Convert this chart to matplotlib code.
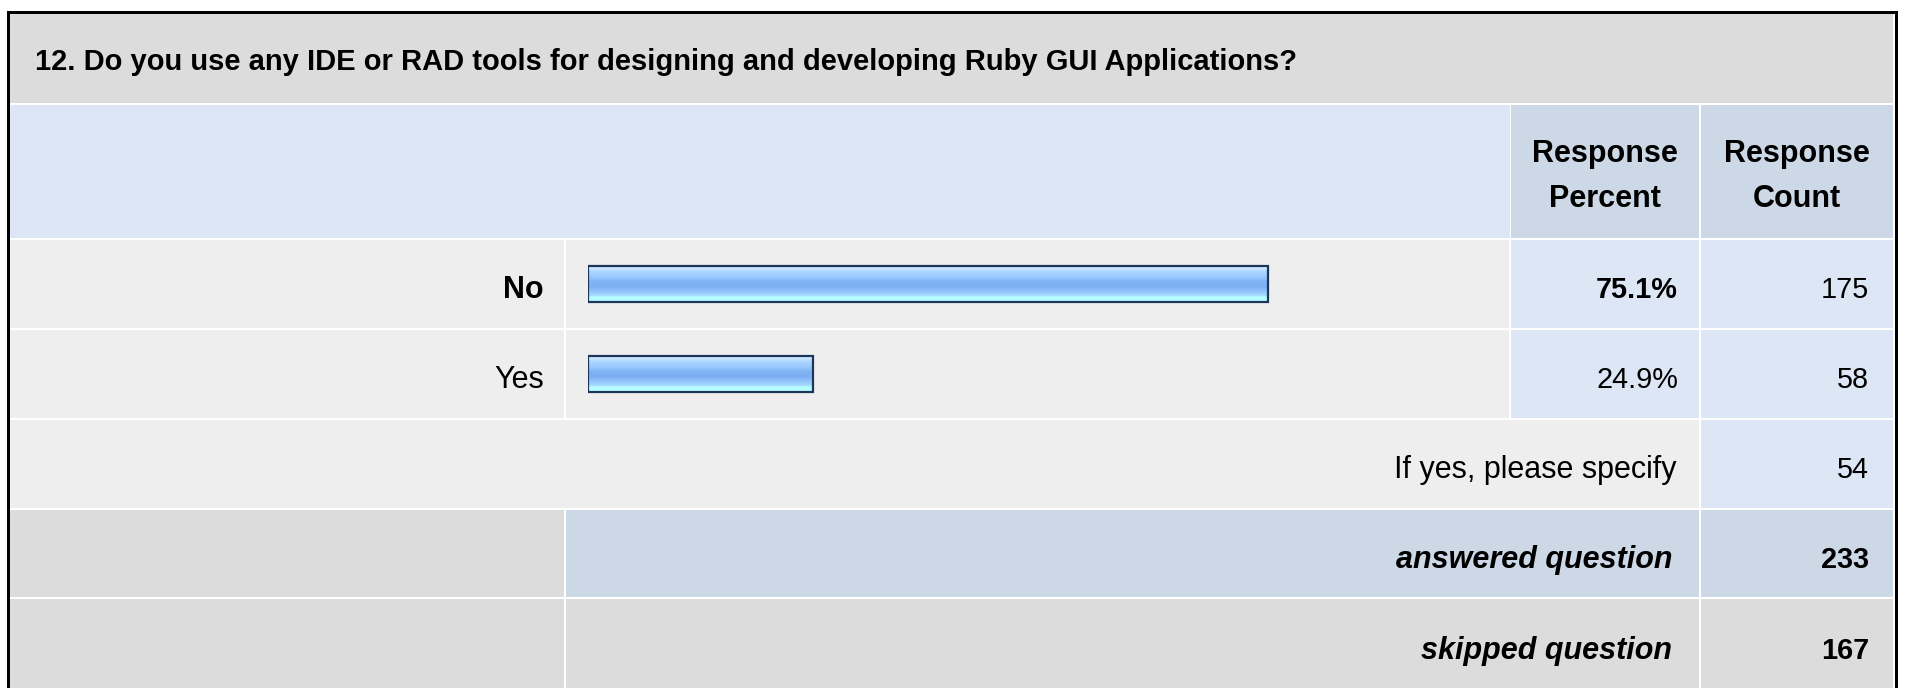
import matplotlib
matplotlib.use("Agg")
import matplotlib.pyplot as plt
import numpy as np
from matplotlib.patches import Rectangle
from matplotlib.colors import LinearSegmentedColormap

plt.rcParams["font.family"] = ["Liberation Sans", "DejaVu Sans"]

# ---- data ----
question = "12. Do you use any IDE or RAD tools for designing and developing Ruby GUI Applications?"
answer_options = ["No", "Yes"]
response_percent = [75.1, 24.9]
response_count = [175, 58]
other_label = "If yes, please specify"
other_count = 54
answered_count = 233
skipped_count = 167

W, H = 1907, 688
PT = 0.72  # px -> pt at dpi 100
TXT = 22.0   # words
NUM = 20.8   # numbers

fig = plt.figure(figsize=(W / 100, H / 100), dpi=100)
ax = fig.add_axes([0, 0, 1, 1])
ax.set_xlim(0, W)
ax.set_ylim(H, 0)
ax.axis("off")


def cell(x0, x1, y0, y1, color):
    ax.add_patch(Rectangle((x0, y0), x1 - x0, y1 - y0, facecolor=color, edgecolor="none", zorder=1))


def txt(x, y, s, ha="right", weight="normal", style="normal", size=NUM):
    ax.text(x, y, s, ha=ha, va="baseline", fontsize=size, fontweight=weight,
            fontstyle=style, color="black", zorder=5)


# column edges (px)
L, C1, C2, C3, R = 10, 565, 1510, 1700, 1893
GAP = 2
TITLE_BG = "#dcdcdc"
HEAD_BG = "#dce6f4"
HEAD_DARK = "#ccd8e6"
ROW_BG = "#eeeeee"

# title
cell(L, R, 13, 103, TITLE_BG)
txt(35, 70, question, ha="left", weight="bold", size=21.0)

# header row
cell(L, C2, 105, 238, HEAD_BG)
cell(C2 + GAP / 2, C3 - GAP / 2, 105, 238, HEAD_DARK)
cell(C3 + GAP / 2, R, 105, 238, HEAD_DARK)
for cx, second in [((C2 + C3) / 2, "Percent"), ((C3 + R) / 2, "Count")]:
    txt(cx, 162, "Response", ha="center", weight="bold", size=TXT)
    txt(cx, 207, second, ha="center", weight="bold", size=TXT)

# answer rows
row_tops = [240, 330]
row_h = 88
top_idx = int(np.argmax(response_count))
for i, (lab, pct, cnt) in enumerate(zip(answer_options, response_percent, response_count)):
    y0 = row_tops[i]
    y1 = y0 + row_h
    cell(L, C1 - GAP / 2, y0, y1, ROW_BG)
    cell(C1 + GAP / 2, C2 - GAP / 2, y0, y1, ROW_BG)
    cell(C2 + GAP / 2, C3 - GAP / 2, y0, y1, HEAD_BG)
    cell(C3 + GAP / 2, R, y0, y1, HEAD_BG)
    base = (y0 + y1) / 2 + 14
    w = "bold" if i == top_idx else "normal"
    txt(544, base, lab, weight=w, size=TXT)
    txt(1678, base, f"{pct:.1f}%", weight=w)
    txt(1869, base, str(cnt))

# other row
cell(L, C3 - GAP / 2, 420, 508, ROW_BG)
cell(C3 + GAP / 2, R, 420, 508, HEAD_BG)
txt(1677, 478, other_label, size=TXT)
txt(1869, 478, str(other_count))

# answered / skipped
cell(L, C1 - GAP / 2, 510, 597, TITLE_BG)
cell(C1 + GAP / 2, C3 - GAP / 2, 510, 597, HEAD_DARK)
cell(C3 + GAP / 2, R, 510, 597, HEAD_DARK)
txt(1672, 568, "answered question", weight="bold", style="italic", size=TXT)
txt(1869, 568, str(answered_count), weight="bold")

cell(L, C1 - GAP / 2, 599, H, TITLE_BG)
cell(C1 + GAP / 2, C3 - GAP / 2, 599, H, TITLE_BG)
cell(C3 + GAP / 2, R, 599, H, TITLE_BG)
txt(1672, 659, "skipped question", weight="bold", style="italic", size=TXT)
txt(1869, 659, str(skipped_count), weight="bold")

# outer frame
ax.plot([7.5, 7.5, 1895.5, 1895.5], [H, 11.5, 11.5, H], color="black",
        lw=3 * PT, solid_joinstyle="miter", zorder=6)

# bars in their own axes, 0..100 percent
bx0, bx1 = 588, 1493
by0, by1 = 239, 419
bax = fig.add_axes([bx0 / W, 1 - by1 / H, (bx1 - bx0) / W, (by1 - by0) / H])
bax.set_xlim(0, 100)
bax.set_ylim(len(answer_options) - 0.5, -0.5)
bax.axis("off")
bax.patch.set_alpha(0)

grad = LinearSegmentedColormap.from_list("bar", [
    (0.00, "#d4ecff"), (0.08, "#c6e4ff"), (0.16, "#a8d4ff"), (0.30, "#9ccaff"),
    (0.42, "#80b4f4"), (0.58, "#7cb0f2"), (0.70, "#92c4fc"), (0.82, "#a6d8ff"),
    (0.86, "#b6fcff"), (1.00, "#b6ffff")])
bars = bax.barh(range(len(answer_options)), response_percent, height=0.4,
                color="none", edgecolor="#1c365a", linewidth=2.2 * PT, zorder=3)
for b in bars:
    x, y, w, h = b.get_x(), b.get_y(), b.get_width(), b.get_height()
    im = bax.imshow(np.linspace(0, 1, 64).reshape(-1, 1), cmap=grad, aspect="auto",
                    extent=[x, x + w, y + h, y], origin="upper", zorder=2)
    im.set_clip_path(b)

fig.savefig("out.png", dpi=100, facecolor="white")
